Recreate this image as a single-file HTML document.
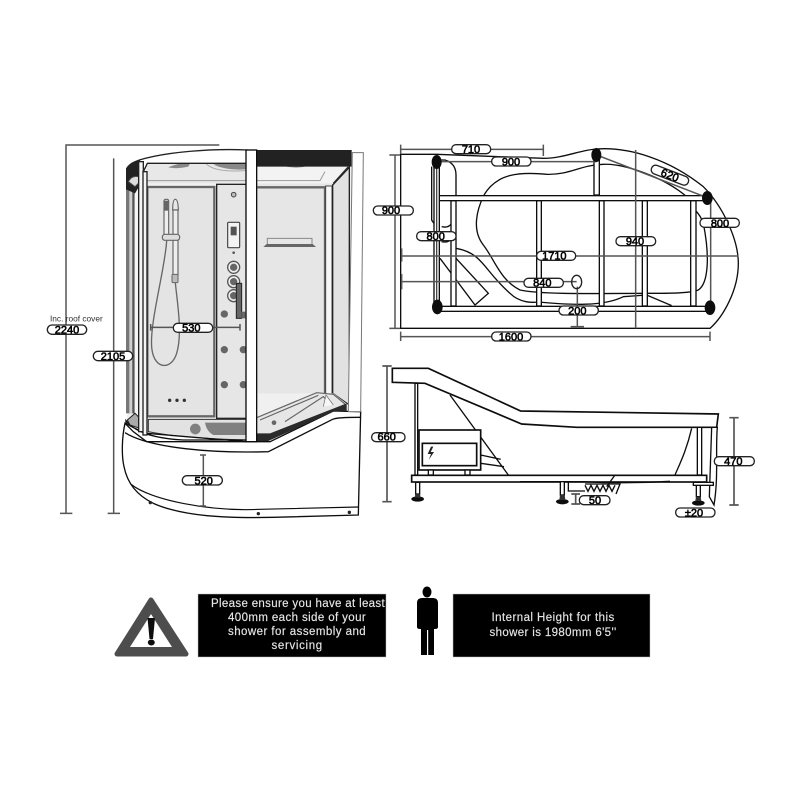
<!DOCTYPE html>
<html><head><meta charset="utf-8"><style>
html,body{margin:0;padding:0;background:#fff}
svg{display:block}
text{font-family:"Liberation Sans",sans-serif}
.l rect{fill:#fff;stroke:#222;stroke-width:4}
.l text{font-size:33px;text-anchor:middle;fill:#000;stroke:#000;stroke-width:1.7}
.k{fill:none;stroke:#111;stroke-width:4}
.g{fill:none;stroke:#555;stroke-width:4.5}
.b{fill:#fff;stroke:#111;stroke-width:4}
.n{font-size:11.5px;text-anchor:middle;fill:#e6e6e6;stroke:#e6e6e6;stroke-width:.15;letter-spacing:.3px}
</style></head><body>
<svg width="800" height="800" viewBox="0 0 800 800" xmlns="http://www.w3.org/2000/svg">
<defs><filter id="s" x="-5%" y="-5%" width="110%" height="110%"><feGaussianBlur stdDeviation="0.35"/></filter></defs>
<rect width="800" height="800" fill="#fff"/>
<g filter="url(#s)">

<!-- SHOWER -->
<g transform="translate(40 130) scale(.33333)">
<path class="g" d="M78 1150V45H538M60 1150H97M221 1150V85M203 1150H240"/>
<!-- interior -->
<path d="M300 95L970 70L960 850L260 880Z" fill="#f0f0f0"/>
<rect x="258" y="160" width="26" height="690" fill="#777"/>
<rect x="268" y="160" width="8" height="690" fill="#cfcfcf"/>
<rect x="282" y="160" width="14" height="700" fill="#f5f5f5" stroke="#333" stroke-width="3"/>
<path d="M320 100H618V160H320Z" fill="#e8e8e8"/>
<path d="M385 112Q420 96 450 100L445 110Q410 118 385 112ZM520 104Q570 92 618 100V118Q560 122 520 104Z" fill="#888"/>
<path d="M498 100Q520 128 618 122" fill="none" stroke="#aaa" stroke-width="3"/>
<path d="M322 152H618" stroke="#999" stroke-width="3" fill="none"/>
<rect x="322" y="171" width="201" height="688" fill="#e4e4e4" stroke="#666" stroke-width="7"/>
<rect x="530" y="163" width="90" height="702" fill="#e6e6e6" stroke="#222" stroke-width="4"/>
<path d="M650 160H855L885 115H925L880 170V790H650Z" fill="#e6e6e6"/>
<path d="M650 108H925V112L880 160H650Z" fill="#f3f3f3"/>
<path d="M730 108Q770 118 810 106Z" fill="#777"/>
<path d="M855 125L840 152H650" fill="none" stroke="#999" stroke-width="3"/>
<path d="M652 172H855V790" fill="none" stroke="#666" stroke-width="7"/>
<path d="M880 160L925 110" stroke="#333" stroke-width="4" fill="none"/>
<rect x="857" y="168" width="19" height="630" fill="#f7f7f7" stroke="#444" stroke-width="3"/>
<path d="M878 165L928 112V825L878 790Z" fill="#e2e2e2" stroke="#222" stroke-width="4"/>
<!-- shelf -->
<path d="M682 325H816V345H682Z" fill="none" stroke="#888" stroke-width="3"/>
<path d="M670 351L680 342H818L828 351Z" fill="#666"/>
<!-- shower head / rail -->
<rect x="372" y="208" width="14" height="110" rx="5" fill="#eee" stroke="#666" stroke-width="3.5"/>
<rect x="373" y="212" width="12" height="30" fill="#666"/>
<path d="M398 240Q398 208 406 208Q414 208 415 240Z" fill="#e8e8e8" stroke="#666" stroke-width="3.5"/>
<rect x="399" y="240" width="15" height="195" fill="#eee" stroke="#666" stroke-width="3.5"/>
<rect x="367" y="313" width="52" height="18" rx="8" fill="#ddd" stroke="#666" stroke-width="3.5"/>
<rect x="396" y="433" width="18" height="25" rx="3" fill="#bbb" stroke="#666" stroke-width="3"/>
<path d="M380 332C375 420 325 590 336 660C345 720 395 720 410 670C428 610 412 520 406 458" fill="none" stroke="#666" stroke-width="4"/>
<circle cx="389" cy="811" r="5" fill="#333"/><circle cx="411" cy="811" r="5" fill="#333"/><circle cx="433" cy="811" r="5" fill="#333"/>
<!-- column -->
<circle cx="581" cy="194" r="7" fill="#bbb" stroke="#444" stroke-width="3"/>
<rect x="563" y="277" width="36" height="76" rx="3" fill="#f4f4f4" stroke="#444" stroke-width="3.5"/>
<rect x="572" y="290" width="18" height="26" fill="#555"/>
<circle cx="581" cy="368" r="4" fill="#555"/>
<circle cx="581" cy="412" r="18" fill="#eee" stroke="#555" stroke-width="4"/><circle cx="581" cy="412" r="11" fill="#666"/>
<circle cx="581" cy="455" r="18" fill="#eee" stroke="#555" stroke-width="4"/><circle cx="581" cy="455" r="11" fill="#666"/>
<circle cx="581" cy="497" r="18" fill="#eee" stroke="#555" stroke-width="4"/><circle cx="581" cy="497" r="11" fill="#666"/>
<circle cx="553" cy="552" r="11" fill="#666"/><circle cx="553" cy="659" r="11" fill="#666"/><circle cx="553" cy="764" r="11" fill="#666"/>
<circle cx="610" cy="659" r="11" fill="#666"/><circle cx="610" cy="764" r="11" fill="#666"/>
<rect x="589" y="460" width="16" height="105" fill="#666" stroke="#222" stroke-width="3"/>
<rect x="604" y="545" width="12" height="20" fill="#666"/>
<!-- lower tray -->
<path d="M325 868H620V930Q420 925 325 905Z" fill="#e2e2e2" stroke="#333" stroke-width="3"/>
<circle cx="466" cy="897" r="16" fill="#808080"/>
<path d="M495 878H665L650 915H520Q500 905 495 878Z" fill="#808080"/>
<path d="M650 865L830 790H880L925 825L880 840L690 925H650Z" fill="#e6e6e6"/>
<path d="M650 863L830 788L880 793L915 822M660 870L835 796M735 875L850 800L875 825" fill="none" stroke="#666" stroke-width="3.5"/>
<path d="M850 830L858 795L880 825" fill="#f7f7f7" stroke="#666" stroke-width="2"/>
<circle cx="702" cy="878" r="7" fill="#666"/>
<!-- base -->
<path class="b" d="M255 880C246 920 244 975 252 1010C262 1060 290 1095 340 1120C430 1160 560 1165 700 1162L955 1155L962 845L880 843L690 935H320L280 905Z"/>
<path d="M272 1062C330 1110 510 1145 660 1138L955 1131" fill="none" stroke="#111" stroke-width="3.5"/>
<path d="M255 908C330 955 520 970 685 965L878 868Q890 862 960 862" fill="none" stroke="#111" stroke-width="4"/>
<circle cx="331" cy="1118" r="5" fill="#222"/><circle cx="655" cy="1151" r="5" fill="#222"/><circle cx="928" cy="1147" r="5" fill="#222"/>
<path d="M258 872C280 900 330 925 430 930H618V935L320 910Q280 895 258 880Z" fill="#fff" stroke="#111" stroke-width="4"/>
<path d="M643 910H690L920 820V842L880 845L685 933H643Z" fill="#2a2a2a"/>
<path d="M262 870L285 850L305 870L300 895L270 885Z" fill="#aaa" stroke="#222" stroke-width="3"/>
<!-- frames -->
<path d="M258 115Q270 95 300 88V165L285 190L258 178Z" fill="#222"/>
<path d="M265 155Q275 135 295 140L300 155L285 170Z" fill="#ddd" stroke="#444" stroke-width="3"/>
<path d="M298 90C380 65 520 55 622 60V100H322L310 125L298 125Z" fill="#fff" stroke="#222" stroke-width="4"/>
<rect x="296" y="95" width="14" height="810" fill="#f5f5f5" stroke="#222" stroke-width="4"/>
<rect x="309" y="125" width="12" height="790" fill="#f5f5f5" stroke="#222" stroke-width="4"/>
<path d="M622 60H935V110H622Z" fill="#222"/>
<rect x="618" y="60" width="32" height="875" fill="#fff" stroke="#111" stroke-width="4"/>
<path d="M937 68L970 68L962 845H925Z" fill="#fff" stroke="#777" stroke-width="3"/>
<!-- dims -->
<path d="M332 592H600M332 582V602M600 582V602" class="g"/>
<path d="M490 975V1128M480 975H498M480 1128H498" class="g"/>
<text x="30" y="575" style="font-size:25px;fill:#333">Inc. roof cover</text>
<g class="l">
<rect x="22" y="585" width="118" height="28" rx="14"/><text x="81" y="610">2240</text>
<rect x="160" y="664" width="118" height="28" rx="14"/><text x="219" y="690">2105</text>
<rect x="400" y="580" width="118" height="27" rx="13"/><text x="454" y="605">530</text>
<rect x="427" y="1037" width="120" height="28" rx="14"/><text x="491" y="1063">520</text>
</g>
</g>

<!-- PLAN -->
<g transform="translate(370 130) scale(.33333)">
<path d="M92 73H200L520 85C580 85 630 60 680 57C780 50 900 90 1000 170C1060 230 1105 330 1105 400C1105 480 1060 560 1020 595H92Z" class="k"/>
<path d="M342 195C380 130 450 125 530 133C600 135 630 105 700 103C760 100 880 140 950 200" class="k"/>
<path d="M342 195C320 240 305 300 340 345C375 390 390 450 450 480C520 495 700 490 830 490C900 490 960 490 985 480C1015 460 1020 380 1000 280C995 265 985 250 975 240" class="k"/>
<path d="M258 355C340 370 340 420 420 490C450 520 490 518 505 516C600 525 700 530 760 500L830 495L905 527" class="k"/>
<path d="M210 385L315 525L355 490L258 385M215 335Q240 340 245 320M215 290Q235 295 245 280" class="k"/>
<path d="M210 90H225Q258 100 258 135V200M185 110V270L195 285" class="k"/>
<g fill="#fff" stroke="#111" stroke-width="4">
<rect x="243" y="212" width="15" height="316"/>
<rect x="500" y="212" width="14" height="316"/>
<rect x="688" y="212" width="14" height="316"/>
<rect x="817" y="212" width="15" height="316"/>
<rect x="962" y="212" width="16" height="316"/>
<rect x="672" y="90" width="16" height="105"/>
<rect x="205" y="197" width="808" height="15"/>
<rect x="205" y="529" width="815" height="15"/>
<rect x="192" y="100" width="16" height="430"/>
</g>
<path d="M200 100V530" stroke="#444" stroke-width="4"/>
<path d="M92 58H520M92 44V72M520 44V78M200 95H680M680 75L1012 203M75 75V595M58 75H90M58 595H90M1022 205V530M95 378H1105M95 355V395M797 60V595M95 455H620M95 432V478M622 470V590M602 590H642M92 620H1020M92 605V633M1020 605V633" class="g"/>
<ellipse cx="620" cy="456" rx="15" ry="20" fill="none" stroke="#222" stroke-width="4"/>
<ellipse cx="200" cy="96" rx="15" ry="21" fill="#111"/>
<ellipse cx="679" cy="75" rx="15" ry="21" fill="#111"/>
<ellipse cx="1012" cy="204" rx="16" ry="21" fill="#111"/>
<ellipse cx="202" cy="531" rx="16" ry="22" fill="#111"/>
<ellipse cx="1020" cy="533" rx="16" ry="22" fill="#111"/>
<g class="l">
<rect x="245" y="44" width="117" height="27" rx="13"/><text x="303" y="69">710</text>
<rect x="365" y="81" width="118" height="27" rx="13"/><text x="423" y="106">900</text>
<rect x="10" y="228" width="120" height="27" rx="13"/><text x="63" y="252">900</text>
<rect x="140" y="305" width="118" height="27" rx="13"/><text x="197" y="330">800</text>
<rect x="990" y="265" width="118" height="27" rx="13"/><text x="1050" y="291">800</text>
<rect x="500" y="364" width="117" height="27" rx="13"/><text x="553" y="389">1710</text>
<rect x="738" y="320" width="119" height="27" rx="13"/><text x="795" y="345">940</text>
<rect x="462" y="445" width="118" height="27" rx="13"/><text x="517" y="470">840</text>
<rect x="567" y="528" width="118" height="27" rx="13"/><text x="622" y="553">200</text>
<rect x="365" y="606" width="118" height="27" rx="13"/><text x="423" y="631">1600</text>
<g transform="rotate(21 900 135)"><rect x="841" y="122" width="118" height="27" rx="13"/><text x="900" y="147">620</text></g>
</g>
</g>

<!-- SIDE -->
<g transform="translate(370 350) scale(.33333)">
<path d="M240 135L415 375M332 315L392 328M332 340L402 350M965 235C950 300 930 340 915 375" class="k"/>
<path d="M67 55H175L452 183L1045 192L1040 232H620L455 222L165 100L67 97Z" class="b" style="stroke-width:5"/>
<rect x="135" y="100" width="8" height="275" class="b"/>
<rect x="982" y="232" width="13" height="143" class="b"/>
<path d="M1025 232H1042C1036 300 1046 380 1032 465L1018 440Z" class="b"/>
<rect x="147" y="240" width="185" height="120" class="b" style="stroke-width:5"/>
<rect x="157" y="280" width="163" height="67" class="b" style="stroke-width:5"/>
<path d="M183 290L173 312H183L176 330L192 306H182L190 290Z" fill="#222"/>
<rect x="175" y="360" width="15" height="15" class="b"/><rect x="285" y="360" width="15" height="15" class="b"/>
<rect x="125" y="376" width="885" height="20" class="b" style="stroke-width:5"/>
<path d="M450 395H640Q770 402 900 394" class="k"/>
<path d="M735 375L710 410" class="k"/>
<rect x="137" y="397" width="12" height="35" class="b"/><ellipse cx="143" cy="447" rx="19" ry="8" fill="#111"/><path d="M136 432H150L152 443H134Z" fill="#333"/>
<rect x="571" y="395" width="12" height="40" class="b"/><ellipse cx="577" cy="455" rx="19" ry="8" fill="#111"/><path d="M570 435H584L586 450H568Z" fill="#333"/>
<rect x="979" y="405" width="12" height="35" class="b"/><ellipse cx="985" cy="459" rx="19" ry="8" fill="#111"/><path d="M978 440H992L994 453H976Z" fill="#333"/>
<rect x="970" y="397" width="60" height="9" class="b"/>
<path d="M595 397V423H645M645 402H750L738 432" class="k"/>
<path d="M645 406L654 424L663 406L672 424L681 406L690 424L699 406L708 424L717 406L726 424L735 406" class="k"/>
<path d="M51 48V455M37 48H65M37 455H65M1092 203V465M1078 203H1106M1078 465H1106M617 432V462M604 432H630M604 462H630" class="g" style="stroke-width:5"/>
<g class="l">
<rect x="5" y="248" width="100" height="27" rx="13"/><text x="50" y="272">660</text>
<rect x="1033" y="320" width="120" height="27" rx="13"/><text x="1090" y="345">470</text>
<rect x="628" y="437" width="92" height="27" rx="13"/><text x="675" y="462">50</text>
<rect x="917" y="474" width="118" height="27" rx="13"/><text x="972" y="499">±20</text>
</g>
</g>

<!-- NOTICES -->
<path d="M151 600L186 654H117Z" fill="#4d4d4d" stroke="#4d4d4d" stroke-width="5" stroke-linejoin="round"/>
<path d="M151 614L172 647H130Z" fill="#fff"/>
<path d="M147.500 618H155L153 639H149.500Z" fill="#111"/>
<ellipse cx="151.300" cy="642.500" rx="3.500" ry="3" fill="#111"/>
<rect x="198" y="594" width="188" height="63" fill="#000" stroke="#bbb" stroke-width=".5"/>
<text class="n" x="298" y="607" textLength="174">Please ensure you have at least</text>
<text class="n" x="297" y="621" textLength="138">400mm each side of your</text>
<text class="n" x="297" y="635" textLength="138">shower for assembly and</text>
<text class="n" x="297" y="649" textLength="51">servicing</text>
<rect x="453" y="594" width="197" height="63" fill="#000" stroke="#bbb" stroke-width=".5"/>
<text class="n" x="553" y="621" textLength="123">Internal Height for this</text>
<text class="n" x="553" y="636" textLength="127">shower is 1980mm 6'5''</text>
<!-- person -->
<ellipse cx="427" cy="592" rx="4.500" ry="5.500" fill="#000"/>
<path d="M417 603Q417 598 422 598H433Q438 598 438 603V627Q438 629 435 629H434V655H428.200V630H427V655H421V629H420Q417 629 417 627Z" fill="#000"/>
</g>
</svg>
</body></html>
